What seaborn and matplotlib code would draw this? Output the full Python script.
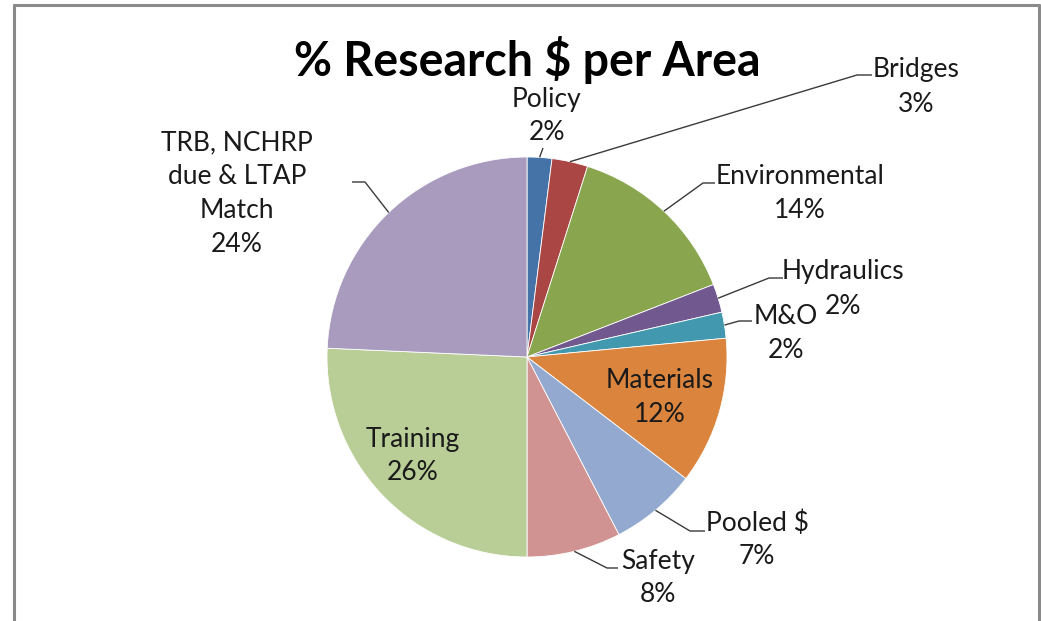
import numpy as np
import matplotlib
matplotlib.use("Agg")
import matplotlib.pyplot as plt
from matplotlib.lines import Line2D
import seaborn as sns

# --- data (percent of research $) ---
areas = ["Policy", "Bridges", "Environmental", "Hydraulics", "M&O",
         "Materials", "Pooled $", "Safety", "Training",
         "TRB, NCHRP\ndue & LTAP\nMatch"]
shares = [2.0, 2.9, 14.2, 2.3, 2.1, 11.9, 7.0, 7.6, 25.7, 24.3]
colors = ["#4572A7", "#AA4643", "#89A54E", "#71588F", "#4198AF",
          "#DB843D", "#93A9CF", "#D19392", "#B9CD96", "#A99BBD"]

# --- layout (pixel positions in the 1041x621 canvas) ---
W, H = 1041, 621
CX, CY, RAD = 527, 357, 200
LINE_GAP = 34  # px between label lines
# label block centre, and elbow / end of the leader line (None = inside label)
label_pos = [(547, 116), (916, 87), (800, 194), (843, 289), (786, 333),
             (660, 397), (757, 540), (658, 578), (413, 456), (237, 194)]
leader_pts = [[(543, 148)],
              [(857, 75), (872, 75)],
              [(703, 183), (715, 183)],
              [(769, 278), (783, 278)],
              [(739, 321), (752, 321)],
              None,
              [(690, 531), (705, 531)],
              [(607, 568), (618, 568)],
              None,
              [(365, 182), (352, 182)]]


def px(x, y):
    return (x - CX) / RAD, (CY - y) / RAD


sns.set_theme(style="white")
plt.rcParams["font.family"] = ["Lato", "DejaVu Sans"]

fig = plt.figure(figsize=(W / 100, H / 100), dpi=100)
ax = fig.add_axes([0, 0, 1, 1])

wedges, _ = ax.pie(shares, colors=sns.color_palette(colors), startangle=90,
                   counterclock=False, radius=1.0, center=(0, 0),
                   wedgeprops=dict(edgecolor="white", linewidth=0.6))

# pie() resets the limits, so set them afterwards
ax.set_xlim(-CX / RAD, (W - CX) / RAD)
ax.set_ylim(-(H - CY) / RAD, CY / RAD)
ax.set_aspect("equal")
ax.axis("off")

total = sum(shares)
for w, name, v, pos, pts in zip(wedges, areas, shares, label_pos, leader_pts):
    lines = name.split("\n") + [f"{v / total * 100:.0f}%"]
    y0 = pos[1] - LINE_GAP * (len(lines) - 1) / 2
    for i, line in enumerate(lines):
        ax.text(*px(pos[0], y0 + i * LINE_GAP), line, ha="center",
                va="center", fontsize=19, color="#1a1a1a")
    if pts is None:
        continue
    mid = np.deg2rad((w.theta1 + w.theta2) / 2)
    xs = [np.cos(mid)] + [px(*p)[0] for p in pts]
    ys = [np.sin(mid)] + [px(*p)[1] for p in pts]
    ax.plot(xs, ys, color="#3a3a3a", linewidth=1.0, solid_capstyle="butt")

ax.text(*px(527, 60), "% Research $ per Area", ha="center", va="center",
        fontsize=33.5, fontweight="bold", color="black")

# chart-area frame (bottom edge cut off in the reference)
frame = dict(color="#8a8a8a", linewidth=2.2, transform=fig.transFigure)
fig.add_artist(Line2D([14 / W, 14 / W], [0, 1 - 5 / H], **frame))
fig.add_artist(Line2D([14 / W, 1039 / W], [1 - 5 / H, 1 - 5 / H], **frame))
fig.add_artist(Line2D([1039 / W, 1039 / W], [0, 1 - 5 / H], **frame))

fig.savefig("out.png", dpi=100)
plt.close(fig)
